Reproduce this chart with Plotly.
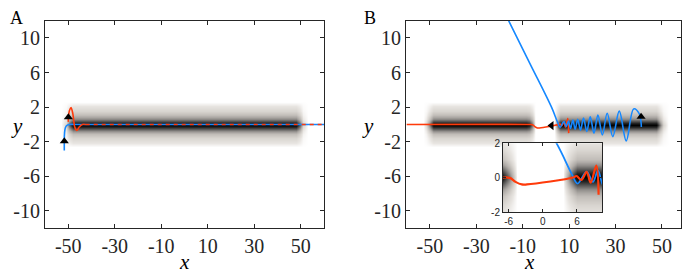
import numpy as np
import plotly.graph_objects as go

# ---------------- data ----------------
# panel A trajectories
a_blue_x = [-51.7, -51.7, -51.6, -51.2, -50.4, -49.2, -47.0, 60.0]
a_blue_y = [-3.0, -2.0, -1.0, -0.35, -0.08, 0.0, 0.0, 0.0]
a_red_x = [-50.0, -49.9, -49.5, -48.8, -48.0, -47.2, -46.3, -45.3, -44.0, -42.5]
a_red_y = [0.3, 0.9, 1.6, 1.95, 1.2, -0.3, -0.7, -0.3, 0.0, 0.0]
a_red_tail_x = [-42.5, 60.0]
a_red_tail_y = [0.0, 0.0]
a_arrow_x = [-51.7, -49.95]
a_arrow_y = [-1.95, 0.85]

# panel B trajectories (also used in the inset)
b_blue_x = [-16.8, -7.0, 2.4, 5.1, 6.1, 7.7, 8.8, 9.7, 10.6, 11.6, 12.6, 13.7, 14.9,
            16.2, 17.6, 19.1, 20.7, 22.4, 24.3, 26.4, 28.8, 31.6, 34.6, 37.8, 40.3,
            41.0, 41.1]
b_blue_y = [12.4, 7.1, 2.0, 0.2, -0.35, 0.35, -0.25, 0.4, -0.45, 0.5, -0.55, 0.6, -0.65,
            0.75, -0.8, 0.9, -1.0, 1.1, -1.2, 1.3, -1.4, 1.55, -1.9, 1.8, 1.2,
            0.2, -0.3]
b_red_x = [-60.0, -7.5, -5.8, -4.8, -3.7, -2.8, 5.3, 5.9, 6.8, 7.7, 8.4, 9.4, 9.8]
b_red_y = [0.0, 0.0, -0.02, -0.25, -0.4, -0.4, 0.0, 0.09, -0.13, 0.33, -0.3, 0.7, -1.0]
b_arrow_x = [2.4, 41.0]
b_arrow_y = [-0.12, 0.9]
b_arrow_sym = ['triangle-left', 'triangle-up']

# density bands: darkness profiles across x and y
band_y = [-2.6, -2.1, -1.6, -1.1, -0.7, -0.35, 0.0, 0.35, 0.7, 1.1, 1.6, 2.1, 2.6]
band_yw = [0.0, 0.08, 0.15, 0.26, 0.45, 0.72, 1.0, 0.72, 0.45, 0.26, 0.15, 0.08, 0.0]
a_band_x = [-53, -51, -49.5, -48, 48, 49.5, 51, 53]
a_band_xw = [0.0, 0.15, 0.6, 1.0, 1.0, 0.6, 0.15, 0.0]
b_band_x = [-53, -51.5, -50, -48.5, -8.5, -7, -6, -4.5, 3.5, 4.8, 6, 47.5, 49, 50.5, 52.5]
b_band_xw = [0.0, 0.15, 0.6, 1.0, 1.0, 0.9, 0.55, 0.0, 0.0, 0.55, 1.0, 1.0, 0.6, 0.15, 0.0]

main_xticks = [-50, -30, -10, 10, 30, 50]
main_yticks = [10, 6, 2, -2, -6, -10]
inset_xticks = [-6, 0, 6]
inset_yticks = [2, 0, -2]

BLUE = '#1588ff'
RED = '#ff3a0a'
AX = '#262626'
SERIF = 'Liberation Serif'

gray_scale = [[0.0, '#ffffff'], [0.08, '#e8e5e1'], [0.18, '#d3cfca'], [0.35, '#aeaaa6'],
              [0.55, '#72706e'], [0.8, '#282828'], [1.0, '#000000']]

# the page body has an 8px margin, so paper positions are measured from there
W, H, OFF = 692, 276, 8


def px(x):
    return (x - OFF) / W


def py(y):
    return 1 - (y - OFF) / H


def band_trace(xs, xw, xa, ya):
    z = np.outer(band_yw, xw)
    return go.Heatmap(x=xs, y=band_y, z=z, zmin=0, zmax=1, zsmooth='best',
                      colorscale=gray_scale, showscale=False, hoverinfo='skip',
                      xaxis=xa, yaxis=ya)


def line(xs, ys, color, xa, ya, width=1.6, dash=None, shape='spline'):
    return go.Scatter(x=xs, y=ys, mode='lines', xaxis=xa, yaxis=ya,
                      line=dict(color=color, width=width, dash=dash, shape=shape),
                      hoverinfo='skip', showlegend=False)


fig = go.Figure()

# panel A
fig.add_trace(band_trace(a_band_x, a_band_xw, 'x', 'y'))
fig.add_trace(line(a_blue_x, a_blue_y, BLUE, 'x', 'y'))
fig.add_trace(line(a_red_x, a_red_y, RED, 'x', 'y'))
fig.add_trace(line(a_red_tail_x, a_red_tail_y, RED, 'x', 'y', dash='4px,4px', shape='linear'))
fig.add_trace(go.Scatter(x=a_arrow_x, y=a_arrow_y, mode='markers', xaxis='x', yaxis='y',
                         marker=dict(symbol='triangle-up', size=8, color='black'),
                         hoverinfo='skip', showlegend=False))

# panel B
fig.add_trace(band_trace(b_band_x, b_band_xw, 'x2', 'y2'))
fig.add_trace(line(b_red_x, b_red_y, RED, 'x2', 'y2'))
fig.add_trace(line(b_blue_x, b_blue_y, BLUE, 'x2', 'y2'))
fig.add_trace(go.Scatter(x=b_arrow_x, y=b_arrow_y, mode='markers', xaxis='x2', yaxis='y2',
                         marker=dict(symbol=b_arrow_sym, size=8, color='black'),
                         hoverinfo='skip', showlegend=False))

# inset of panel B
fig.add_trace(band_trace(b_band_x, b_band_xw, 'x3', 'y3'))
fig.add_trace(line(b_blue_x, b_blue_y, BLUE, 'x3', 'y3', width=1.8))
fig.add_trace(line(b_red_x, b_red_y, RED, 'x3', 'y3', width=2.2))


def main_axis(domain, rng, ticks, anchor):
    return dict(domain=domain, range=rng, anchor=anchor, tickvals=ticks,
                ticktext=[str(t) for t in ticks], showgrid=False, zeroline=False,
                showline=True, linecolor=AX, linewidth=1, mirror='ticks',
                ticks='inside', ticklen=4, tickcolor=AX,
                tickfont=dict(family=SERIF, size=20, color=AX))


def inset_axis(domain, rng, ticks, anchor):
    return dict(domain=domain, range=rng, anchor=anchor, tickvals=ticks,
                ticktext=[str(t) for t in ticks], showgrid=False, zeroline=False,
                showline=True, linecolor=AX, linewidth=1, mirror='ticks',
                ticks='inside', ticklen=3, tickcolor=AX,
                tickfont=dict(family='Liberation Sans', size=10, color=AX))


ydom = [py(232), py(15)]
fig.update_layout(
    width=W, height=H, margin=dict(l=0, r=0, t=0, b=0, pad=0),
    paper_bgcolor='white', plot_bgcolor='white', showlegend=False,
    xaxis=main_axis([px(45), px(324)], [-60, 60], main_xticks, 'y'),
    yaxis=main_axis(ydom, [-12, 12], main_yticks, 'x'),
    xaxis2=main_axis([px(406), px(681)], [-60.3, 58.2], main_xticks, 'y2'),
    yaxis2=main_axis(ydom, [-12, 12], main_yticks, 'x2'),
    xaxis3=inset_axis([px(503), px(602)], [-7, 10.4], inset_xticks, 'y3'),
    yaxis3=inset_axis([py(215), py(143)], [-2, 2], inset_yticks, 'x3'),
)

labels = [
    dict(text='A', x=8, y=12, size=18, italic=False, anchor='left'),
    dict(text='B', x=362, y=12, size=18, italic=False, anchor='left'),
    dict(text='x', x=184, y=267, size=21, italic=True, anchor='center'),
    dict(text='x', x=529, y=267, size=21, italic=True, anchor='center'),
    dict(text='y', x=17, y=125, size=21, italic=True, anchor='center'),
    dict(text='y', x=368, y=125, size=21, italic=True, anchor='center'),
]
for lb in labels:
    txt = f"<i>{lb['text']}</i>" if lb['italic'] else lb['text']
    fig.add_annotation(text=txt, x=px(lb['x']), y=py(lb['y']), xref='paper', yref='paper',
                       xanchor=lb['anchor'], yanchor='middle', showarrow=False,
                       font=dict(family=SERIF, size=lb['size'], color='black'))

fig.write_html("out.html")
